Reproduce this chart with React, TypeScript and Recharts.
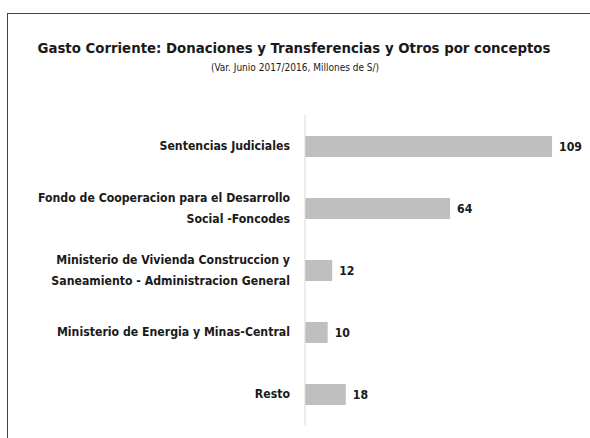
import React from "react";
import { BarChart, Bar, XAxis, YAxis, LabelList } from "recharts";

const categories = [
  "Sentencias Judiciales",
  "Fondo de Cooperacion para el Desarrollo Social -Foncodes",
  "Ministerio de Vivienda Construccion y Saneamiento - Administracion General",
  "Ministerio de Energia y Minas-Central",
  "Resto",
];
const categoryLines = [
  ["Sentencias Judiciales"],
  ["Fondo de Cooperacion para el Desarrollo", "Social -Foncodes"],
  ["Ministerio de Vivienda Construccion y", "Saneamiento - Administracion General"],
  ["Ministerio de Energia y Minas-Central"],
  ["Resto"],
];
const values = [109, 64, 12, 10, 18];
const title = "Gasto Corriente: Donaciones y Transferencias y Otros por conceptos";
const subtitle = "(Var. Junio 2017/2016, Millones de S/)";

const data = categories.map((c, i) => ({ name: c, value: values[i] }));

const FONT = "'DejaVu Sans Condensed', 'Liberation Sans Narrow', sans-serif";

const YTick = (props: any) => {
  const { y, payload } = props;
  const lines = categoryLines[payload.index] || [payload.value];
  const lh = 21;
  const startY = y - ((lines.length - 1) * lh) / 2;
  return (
    <text x={290} y={startY} textAnchor="end" fontFamily={FONT} fontWeight="bold" fontSize={12.2} fill="#1a1a1a">
      {lines.map((l: string, i: number) => (
        <tspan key={i} x={290} y={startY + i * lh} dy="0.35em">
          {l}
        </tspan>
      ))}
    </text>
  );
};

export default function App() {
  return (
    <div style={{ position: "absolute", left: 0, top: 0, width: 590, height: 438, background: "#fff", overflow: "hidden" }}>
      <div style={{ position: "absolute", left: 7, top: 13, width: 620, height: 460, border: "1px solid #444", boxSizing: "border-box" }} />
      <div
        style={{
          position: "absolute",
          left: 0,
          top: 39,
          width: 588,
          textAlign: "center",
          fontFamily: FONT,
          fontWeight: "bold",
          fontSize: 14.8,
          lineHeight: "18px",
          color: "#1a1a1a",
          whiteSpace: "nowrap",
        }}
      >
        {title}
      </div>
      <div
        style={{
          position: "absolute",
          left: 0,
          top: 62,
          width: 590,
          textAlign: "center",
          fontFamily: FONT,
          fontSize: 10,
          lineHeight: "12px",
          color: "#1a1a1a",
          whiteSpace: "nowrap",
        }}
      >
        {subtitle}
      </div>
      <div style={{ position: "absolute", left: 0, top: 0 }}>
        <BarChart
          width={590}
          height={438}
          data={data}
          layout="vertical"
          margin={{ top: 115, right: 13, bottom: 13, left: 0 }}
          barCategoryGap={0}
        >
          <XAxis type="number" domain={[0, 120]} hide />
          <YAxis
            type="category"
            dataKey="name"
            width={305}
            axisLine={{ stroke: "#d9d9d9", strokeWidth: 1 }}
            tickLine={false}
            tick={<YTick />}
            interval={0}
          />
          <Bar dataKey="value" fill="#bfbfbf" barSize={21} isAnimationActive={false}>
            <LabelList
              dataKey="value"
              position="right"
              offset={7}
              style={{ fontFamily: FONT, fontWeight: "bold", fontSize: 12.2, fill: "#1a1a1a" }}
            />
          </Bar>
        </BarChart>
      </div>
    </div>
  );
}
